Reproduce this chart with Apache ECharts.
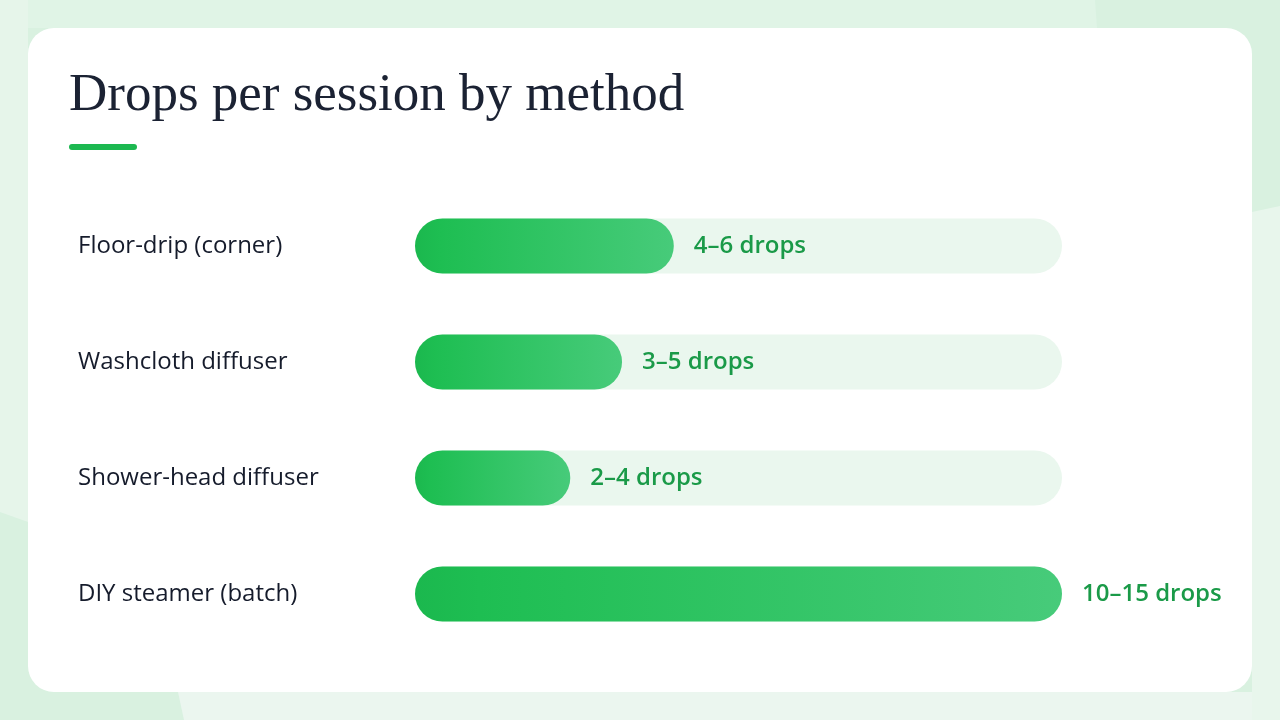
<!DOCTYPE html>
<html><head><meta charset="utf-8">
<script src="https://cdn.jsdelivr.net/npm/echarts@6/dist/echarts.min.js"></script>
<style>html,body{margin:0;padding:0;background:#dff3e6;}#c{width:1280px;height:720px;}</style>
</head><body><div id="c"></div>
<script>
const categories = ['Floor-drip (corner)', 'Washcloth diffuser', 'Shower-head diffuser', 'DIY steamer (batch)'];
const midValues = [5, 4, 3, 12.5];
const rangeLabels = ['4–6 drops', '3–5 drops', '2–4 drops', '10–15 drops'];
const axisMax = 12.5;

const chart = echarts.init(document.getElementById('c'));
chart.setOption({
  backgroundColor: '#d9f1e0',
  graphic: [
    { type: 'polygon', z: 0, shape: { points: [[0,0],[1095,0],[1097,28],[0,28]] }, style: { fill: '#e0f4e6' } },
    { type: 'polygon', z: 0, shape: { points: [[0,0],[28,0],[28,522],[0,512]] }, style: { fill: '#e6f5ea' } },
    { type: 'polygon', z: 0, shape: { points: [[178,692],[1280,692],[1280,720],[184,720]] }, style: { fill: '#ebf6ef' } },
    { type: 'polygon', z: 0, shape: { points: [[1252,212],[1280,206],[1280,720],[1252,720]] }, style: { fill: '#e8f6ec' } },
    { type: 'rect', z: 1, shape: { x: 28, y: 28, width: 1224, height: 664, r: 26 }, style: { fill: '#ffffff' } },
    { type: 'rect', z: 2, shape: { x: 69, y: 144, width: 68, height: 6, r: 3 }, style: { fill: '#1cb850' } }
  ],
  title: {
    text: 'Drops per session by method',
    left: 69, top: 70, z: 10, padding: 0,
    textStyle: { fontFamily: 'Liberation Serif', fontWeight: 'normal', fontSize: 53, color: '#1b2233' }
  },
  grid: { left: 415, right: 218, top: 188, bottom: 68, containLabel: false },
  xAxis: { type: 'value', min: 0, max: axisMax, show: false },
  yAxis: {
    type: 'category', data: categories, inverse: true, z: 10,
    axisLine: { show: false }, axisTick: { show: false }, splitLine: { show: false },
    axisLabel: { align: 'left', margin: 337, fontFamily: 'Open Sans', fontWeight: 500, fontSize: 24, color: '#151b2b' }
  },
  series: [{
    type: 'bar', data: midValues, barWidth: 55, z: 10,
    showBackground: true,
    backgroundStyle: { color: '#eaf7ee', borderRadius: 28 },
    itemStyle: {
      borderRadius: 28,
      color: new echarts.graphic.LinearGradient(0, 0, 1, 0, [
        { offset: 0, color: '#1bb84e' },
        { offset: 0.1, color: '#1ebe52' },
        { offset: 1, color: '#47cb7a' }
      ])
    },
    label: {
      show: true, position: 'right', distance: 20,
      formatter: p => rangeLabels[p.dataIndex],
      fontFamily: 'Open Sans', fontWeight: 600, fontSize: 24, color: '#1a9a48'
    },
    silent: true
  }],
  animation: false
});
</script></body></html>
